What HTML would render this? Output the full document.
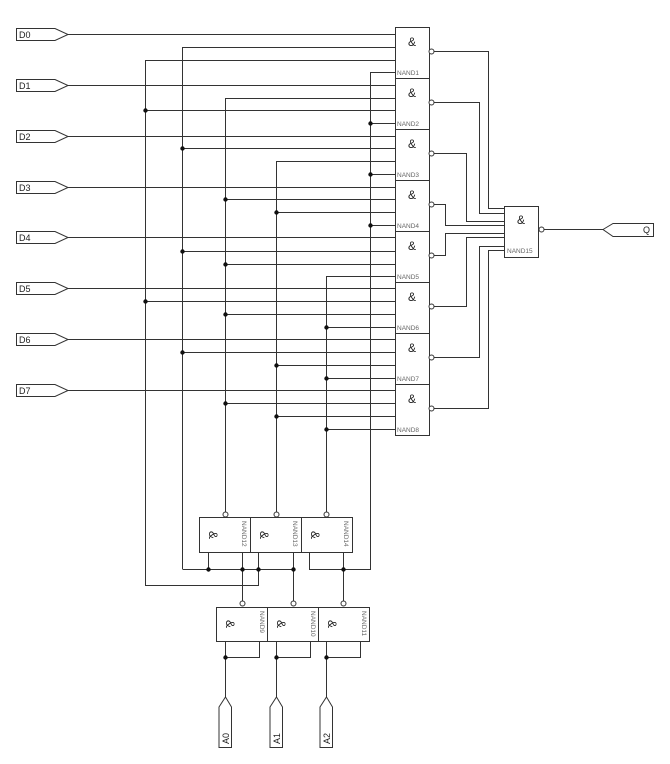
<!DOCTYPE html>
<html><head><meta charset="utf-8"><style>
html,body{margin:0;padding:0;background:#fff;}
svg{display:block;}
text{font-family:"Liberation Sans",sans-serif;}
</style></head><body>
<svg width="670" height="764" viewBox="0 0 670 764" xmlns="http://www.w3.org/2000/svg">
<g stroke="#333" stroke-width="1" fill="none">
<!-- D connectors -->
<path d="M16.5 28.5 H55 L68 34.5 L55 40.5 H16.5 Z"/>
<path d="M16.5 79.5 H55 L68 85.5 L55 91.5 H16.5 Z"/>
<path d="M16.5 130.5 H55 L68 136.5 L55 142.5 H16.5 Z"/>
<path d="M16.5 181.5 H55 L68 187.5 L55 193.5 H16.5 Z"/>
<path d="M16.5 231.5 H55 L68 237.5 L55 243.5 H16.5 Z"/>
<path d="M16.5 282.5 H55 L68 288.5 L55 294.5 H16.5 Z"/>
<path d="M16.5 333.5 H55 L68 339.5 L55 345.5 H16.5 Z"/>
<path d="M16.5 384.5 H55 L68 390.5 L55 396.5 H16.5 Z"/>
<!-- D lines -->
<path d="M68 34.5H395 M68 85.5H395 M68 136.5H395 M68 187.5H395 M68 237.5H395 M68 288.5H395 M68 339.5H395 M68 390.5H395"/>
<!-- select lines horizontals -->
<path d="M182.5 47.5H395 M145.5 60.5H395 M370.5 72.5H395"/>
<path d="M225.5 98.5H395 M145.5 110.5H395 M370.5 123.5H395"/>
<path d="M182.5 148.5H395 M276.5 161.5H395 M370.5 174.5H395"/>
<path d="M225.5 199.5H395 M276.5 212.5H395 M370.5 225.5H395"/>
<path d="M182.5 251.5H395 M225.5 264.5H395 M326.5 276.5H395"/>
<path d="M145.5 301.5H395 M225.5 314.5H395 M326.5 327.5H395"/>
<path d="M182.5 352.5H395 M276.5 365.5H395 M326.5 378.5H395"/>
<path d="M225.5 403.5H395 M276.5 416.5H395 M326.5 429.5H395"/>
<!-- verticals -->
<path d="M145.5 60V585.5H258.5V569 M182.5 47V569 M225.5 98V512 M276.5 161V512 M326.5 276V512 M370.5 72V569.5H309.5V552"/>
<path d="M182.5 569.5H293.5"/>
<path d="M208.5 552V569.5 M242.5 552V601 M258.5 552V569.5 M293.5 552V601 M343.5 552V601"/>
<!-- main gates -->
<rect x="395.5" y="27.5" width="34" height="408"/>
<path d="M395.5 78.5H429.5 M395.5 129.5H429.5 M395.5 180.5H429.5 M395.5 231.5H429.5 M395.5 282.5H429.5 M395.5 333.5H429.5 M395.5 384.5H429.5"/>
<circle cx="431.5" cy="51.5" r="2.5" fill="#fff"/>
<circle cx="431.5" cy="102.5" r="2.5" fill="#fff"/>
<circle cx="431.5" cy="153.5" r="2.5" fill="#fff"/>
<circle cx="431.5" cy="204.5" r="2.5" fill="#fff"/>
<circle cx="431.5" cy="255.5" r="2.5" fill="#fff"/>
<circle cx="431.5" cy="306.5" r="2.5" fill="#fff"/>
<circle cx="431.5" cy="357.5" r="2.5" fill="#fff"/>
<circle cx="431.5" cy="408.5" r="2.5" fill="#fff"/>
<!-- outputs to NAND15 -->
<path d="M434 51.5H488.5V208.5H504"/>
<path d="M434 102.5H479.5V213.5H504"/>
<path d="M434 153.5H466.5V221.5H504"/>
<path d="M434 204.5H445.5V225.5H504"/>
<path d="M434 255.5H445.5V233.5H504"/>
<path d="M434 306.5H466.5V237.5H504"/>
<path d="M434 357.5H479.5V246.5H504"/>
<path d="M434 408.5H488.5V250.5H504"/>
<rect x="504.5" y="206.5" width="34" height="51"/>
<circle cx="541.5" cy="229.5" r="2.5" fill="#fff"/>
<path d="M544 229.5H603"/>
<path d="M603 229.5 L613 223.5 H653.5 V236.5 H613 Z"/>
<!-- NAND12-14 -->
<rect x="199.5" y="517.5" width="153" height="35"/>
<path d="M250.5 517.5V552.5 M301.5 517.5V552.5"/>
<circle cx="225.5" cy="514.5" r="2.5" fill="#fff"/>
<circle cx="276.5" cy="514.5" r="2.5" fill="#fff"/>
<circle cx="326.5" cy="514.5" r="2.5" fill="#fff"/>
<!-- NAND9-11 -->
<rect x="216.5" y="607.5" width="153" height="34"/>
<path d="M267.5 607.5V641.5 M318.5 607.5V641.5"/>
<circle cx="242.5" cy="603.5" r="2.5" fill="#fff"/>
<circle cx="293.5" cy="603.5" r="2.5" fill="#fff"/>
<circle cx="343.5" cy="603.5" r="2.5" fill="#fff"/>
<path d="M225.5 641.5V697 M259.5 641.5V657.5H225.5"/>
<path d="M276.5 641.5V697 M310.5 641.5V657.5H276.5"/>
<path d="M326.5 641.5V697 M360.5 641.5V657.5H326.5"/>
<!-- A connectors -->
<path d="M225.5 697 L231.5 707 V747.5 H219 V707 Z"/>
<path d="M276.5 697 L282.5 707 V747.5 H270 V707 Z"/>
<path d="M326.5 697 L332.5 707 V747.5 H320 V707 Z"/>
</g>
<g fill="#111">
<circle cx="145.5" cy="110.5" r="2.2"/><circle cx="370.5" cy="123.5" r="2.2"/>
<circle cx="182.5" cy="148.5" r="2.2"/><circle cx="370.5" cy="174.5" r="2.2"/>
<circle cx="225.5" cy="199.5" r="2.2"/><circle cx="276.5" cy="212.5" r="2.2"/><circle cx="370.5" cy="225.5" r="2.2"/>
<circle cx="182.5" cy="251.5" r="2.2"/><circle cx="225.5" cy="264.5" r="2.2"/>
<circle cx="145.5" cy="301.5" r="2.2"/><circle cx="225.5" cy="314.5" r="2.2"/><circle cx="326.5" cy="327.5" r="2.2"/>
<circle cx="182.5" cy="352.5" r="2.2"/><circle cx="276.5" cy="365.5" r="2.2"/><circle cx="326.5" cy="378.5" r="2.2"/>
<circle cx="225.5" cy="403.5" r="2.2"/><circle cx="276.5" cy="416.5" r="2.2"/><circle cx="326.5" cy="429.5" r="2.2"/>
<circle cx="208.5" cy="569.5" r="2.2"/><circle cx="242.5" cy="569.5" r="2.2"/><circle cx="258.5" cy="569.5" r="2.2"/><circle cx="293.5" cy="569.5" r="2.2"/><circle cx="343.5" cy="569.5" r="2.2"/>
<circle cx="225.5" cy="657.5" r="2.2"/><circle cx="276.5" cy="657.5" r="2.2"/><circle cx="326.5" cy="657.5" r="2.2"/>
</g>
<g font-size="9" fill="#222">
<text x="19" y="38">D0</text><text x="19" y="89">D1</text><text x="19" y="140">D2</text><text x="19" y="191">D3</text>
<text x="19" y="241">D4</text><text x="19" y="292">D5</text><text x="19" y="343">D6</text><text x="19" y="394">D7</text>
<text x="643" y="233">Q</text>
<text transform="translate(229,744) rotate(-90)">A0</text>
<text transform="translate(280,744) rotate(-90)">A1</text>
<text transform="translate(330,744) rotate(-90)">A2</text>
</g>
<g font-size="12" fill="#222" text-anchor="middle">
<text x="412" y="46">&amp;</text><text x="412" y="97">&amp;</text><text x="412" y="148">&amp;</text><text x="412" y="199">&amp;</text>
<text x="412" y="250">&amp;</text><text x="412" y="301">&amp;</text><text x="412" y="352">&amp;</text><text x="412" y="403">&amp;</text>
<text x="521" y="224">&amp;</text>
<text transform="translate(209,535) rotate(90)">&amp;</text>
<text transform="translate(260,535) rotate(90)">&amp;</text>
<text transform="translate(311,535) rotate(90)">&amp;</text>
<text transform="translate(226,624) rotate(90)">&amp;</text>
<text transform="translate(277,624) rotate(90)">&amp;</text>
<text transform="translate(328,624) rotate(90)">&amp;</text>
</g>
<g font-size="6.5" fill="#666">
<text x="397" y="75">NAND1</text><text x="397" y="126">NAND2</text><text x="397" y="177">NAND3</text><text x="397" y="228">NAND4</text>
<text x="397" y="279">NAND5</text><text x="397" y="330">NAND6</text><text x="397" y="381">NAND7</text><text x="397" y="432">NAND8</text>
<text x="507" y="253">NAND15</text>
<text transform="translate(242,521) rotate(90)">NAND12</text>
<text transform="translate(293,521) rotate(90)">NAND13</text>
<text transform="translate(344,521) rotate(90)">NAND14</text>
<text transform="translate(260,611) rotate(90)">NAND9</text>
<text transform="translate(311,611) rotate(90)">NAND10</text>
<text transform="translate(362,611) rotate(90)">NAND11</text>
</g>
</svg>
</body></html>
